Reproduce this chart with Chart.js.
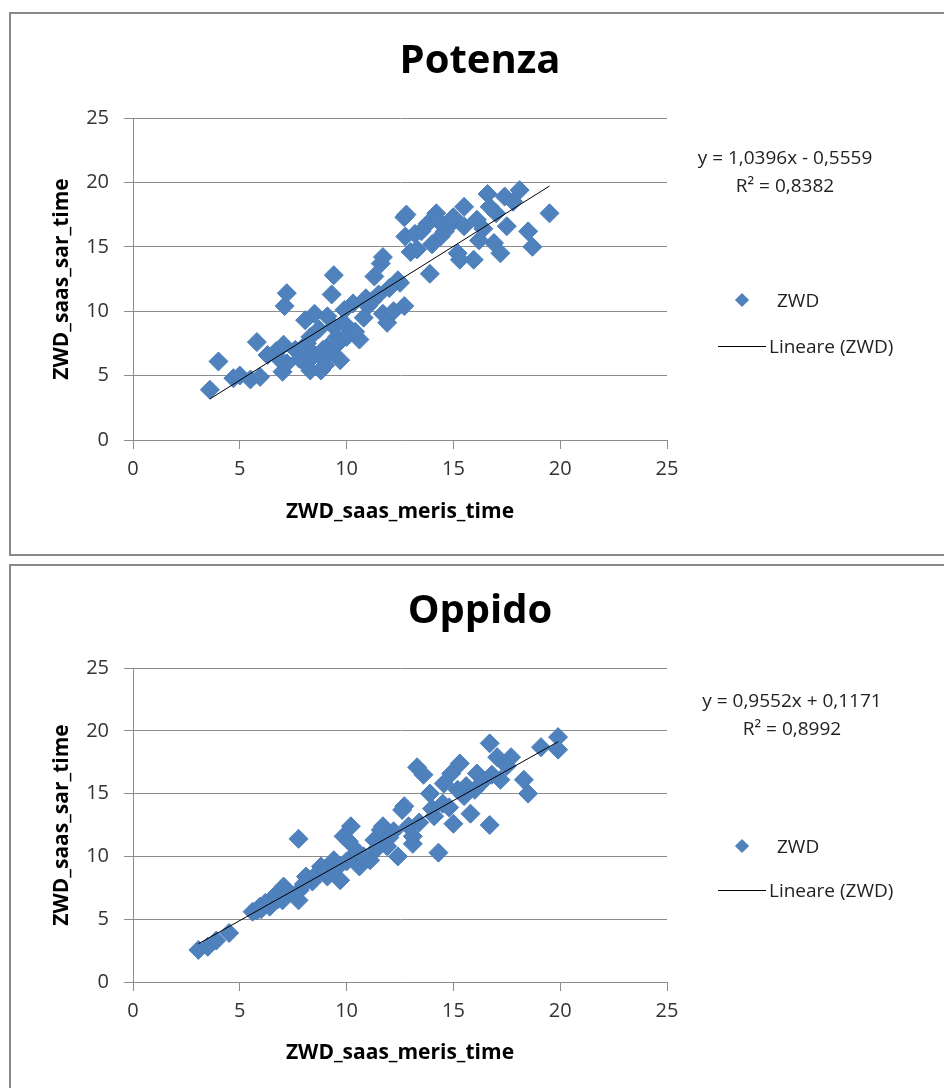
<!DOCTYPE html>
<html>
<head>
<meta charset="utf-8">
<script src="https://cdn.jsdelivr.net/npm/chart.js@4.4.1/dist/chart.umd.min.js"></script>
<style>
  body { margin: 0; background: #fff; width: 944px; height: 1088px; overflow: hidden; position: relative; font-family: "Open Sans", sans-serif; }
  .panel { position: absolute; left: 9px; width: 960px; border: 2px solid #888; background: #fff; }
  #p1 { top: 12px; height: 540px; }
  #p2 { top: 564px; height: 540px; }
  canvas { position: absolute; left: 0; top: 0; }
  .eq { position: absolute; width: 260px; text-align: center; font-size: 19px; line-height: 28px; color: #222; }
  .leg { position: absolute; font-size: 19px; color: #222; line-height: 24px; }
  .diamond { position: absolute; width: 10px; height: 10px; background: #4F81BD; transform: rotate(45deg); }
  .lline { position: absolute; width: 48px; height: 0; border-top: 1px solid #000; }
</style>
</head>
<body>
<div class="panel" id="p1"><canvas id="c1" width="938" height="540"></canvas></div>
<div class="panel" id="p2"><canvas id="c2" width="938" height="522"></canvas></div>

<!-- equazioni e legenda -->
<div class="eq" style="left:655px; top:143px;">y = 1,0396x - 0,5559<br>R² = 0,8382</div>
<div class="diamond" style="left:737px; top:295px;"></div>
<div class="leg" style="left:777px; top:288px;">ZWD</div>
<div class="lline" style="left:718px; top:346px;"></div>
<div class="leg" style="left:769px; top:334px;">Lineare (ZWD)</div>

<div class="eq" style="left:662px; top:686px;">y = 0,9552x + 0,1171<br>R² = 0,8992</div>
<div class="diamond" style="left:737px; top:841px;"></div>
<div class="leg" style="left:777px; top:834px;">ZWD</div>
<div class="lline" style="left:718px; top:890px;"></div>
<div class="leg" style="left:769px; top:878px;">Lineare (ZWD)</div>

<script>
// Potenza
const potenzaX = [3.6, 4.0, 4.7, 5.0, 5.5, 5.95, 5.8, 6.7, 7.05, 7.0, 7.2, 7.1, 7.2, 7.6, 8.06, 8.14, 8.06, 8.3, 8.5, 8.8,
  8.8, 9.1, 9.1, 9.3, 9.4, 9.4, 9.55, 9.7, 9.86, 10.2, 10.3, 10.6, 11.0, 11.3, 11.6, 11.7, 11.7, 11.9, 12.4, 12.7,
  12.7, 12.75, 13.0, 12.8, 13.3, 13.8, 13.9, 14.2, 14.4, 14.9, 15.2, 15.3, 15.5, 15.5, 15.95, 16.1, 16.6, 16.7, 16.9, 17.2,
  17.4, 17.5, 18.1, 18.5, 18.7, 19.5, 12.5, 8.5, 8.9, 9.2, 9.6, 8.3, 10.0, 10.4, 7.8, 9.0, 8.7, 10.8, 11.2, 11.5,
  12.0, 6.3, 6.9, 13.5, 14.0, 14.6, 15.0, 13.2, 16.4, 17.0, 17.8, 16.2, 14.3, 12.2, 10.9, 9.9, 8.0];
const potenzaY = [3.9, 6.1, 4.8, 5.0, 4.7, 4.9, 7.6, 6.9, 7.4, 5.3, 5.95, 10.4, 11.4, 7.0, 9.3, 7.5, 5.95, 5.4, 9.8, 6.5,
  5.4, 9.6, 7.2, 11.3, 12.8, 8.8, 8.0, 6.2, 9.1, 8.5, 10.6, 7.8, 10.4, 12.7, 13.7, 14.2, 9.8, 9.1, 12.4, 10.4,
  17.3, 15.8, 14.6, 17.5, 14.8, 16.8, 12.9, 17.6, 15.8, 16.8, 14.5, 14.0, 18.1, 16.6, 14.0, 17.1, 19.1, 18.1, 15.3, 14.5,
  18.9, 16.6, 19.4, 16.2, 15.0, 17.6, 12.2, 6.6, 7.0, 6.8, 7.5, 8.0, 8.0, 8.4, 6.3, 5.8, 8.6, 9.5, 10.8, 11.3,
  11.8, 6.6, 6.2, 16.2, 15.2, 16.2, 17.3, 16.0, 16.4, 17.6, 18.5, 15.5, 17.0, 10.0, 11.0, 10.1, 7.2];
const potenzaTrend = { slope: 1.0396, intercept: -0.5559 };

// Oppido
const oppidoX = [3.06, 3.5, 3.9, 4.5, 5.6, 5.95, 6.4, 6.6, 7.05, 7.75, 7.75, 8.1, 8.8, 9.1, 9.4, 9.7, 9.86, 10.2, 10.3, 10.6,
  11.1, 11.3, 11.7, 11.9, 12.4, 12.7, 13.1, 13.3, 13.6, 13.9, 14.1, 14.3, 14.55, 14.9, 15.0, 15.3, 15.5, 15.8, 16.1, 16.7,
  16.7, 17.05, 17.2, 17.7, 18.3, 18.5, 19.1, 19.9, 19.9, 9.2, 11.6, 12.6, 13.1, 5.8, 6.2, 6.8, 7.3, 7.8, 8.4, 8.6,
  9.0, 10.0, 10.5, 10.8, 11.4, 12.0, 12.2, 12.9, 13.4, 14.0, 14.5, 14.8, 15.2, 15.6, 16.0, 16.4, 17.5, 16.8, 7.0, 6.0,
  8.0, 9.5, 10.1];
const oppidoY = [2.55, 2.8, 3.3, 3.9, 5.6, 6.0, 6.0, 6.8, 7.6, 11.4, 6.5, 8.4, 9.2, 8.4, 9.7, 8.1, 11.6, 12.4, 10.0, 9.2,
  9.7, 11.3, 12.4, 10.8, 10.0, 14.0, 11.0, 17.1, 16.5, 15.0, 13.2, 10.3, 15.8, 16.6, 12.6, 17.4, 14.8, 13.4, 16.6, 12.5,
  19.0, 17.9, 16.1, 17.9, 16.1, 15.0, 18.7, 19.5, 18.5, 9.2, 12.1, 13.7, 11.6, 5.7, 6.3, 6.6, 7.1, 7.3, 8.0, 8.6,
  8.8, 9.6, 10.4, 10.0, 10.6, 11.5, 12.0, 12.4, 12.7, 13.8, 14.2, 13.9, 15.3, 15.6, 15.3, 16.0, 17.2, 16.5, 6.5, 5.8,
  7.8, 9.0, 11.2];
const oppidoTrend = { slope: 0.9552, intercept: 0.1171 };

const axisTicks = { min: 0, max: 25, step: 5 };
const xTitle = 'ZWD_saas_meris_time';
const yTitle = 'ZWD_saas_sar_time';

const FONT = '"Open Sans", sans-serif';
const GRID = '#8c8c8c';

function creaGrafico(id, titolo, xs, ys, trend, geo) {
  const punti = xs.map((x, i) => ({ x: x, y: ys[i] }));
  const xmin = Math.min(...xs), xmax = Math.max(...xs);
  const retta = [xmin, xmax].map(x => ({ x: x, y: trend.slope * x + trend.intercept }));

  const ctx = document.getElementById(id).getContext('2d');
  return new Chart(ctx, {
    type: 'scatter',
    data: {
      datasets: [
        {
          type: 'line',
          label: 'Lineare (ZWD)',
          data: retta,
          borderColor: '#000',
          borderWidth: 1,
          pointRadius: 0,
          fill: false,
          order: 0
        },
        {
          label: 'ZWD',
          data: punti,
          pointStyle: 'rectRot',
          pointRadius: 9.5,
          backgroundColor: '#4F81BD',
          borderColor: '#4A7EBB',
          borderWidth: 1,
          order: 1
        }
      ]
    },
    options: {
      responsive: false,
      animation: false,
      layout: { padding: { left: 0, right: 0, top: 0, bottom: geo.bottom } },
      plugins: {
        legend: { display: false },
        tooltip: { enabled: false },
        title: {
          display: true,
          text: titolo,
          color: '#000',
          font: { family: FONT, size: 40, weight: 'bold' },
          padding: { top: geo.titleTop, bottom: geo.titleBottom }
        }
      },
      scales: {
        x: {
          type: 'linear',
          min: axisTicks.min, max: axisTicks.max,
          ticks: { stepSize: axisTicks.step, color: '#333', font: { family: FONT, size: 20 }, padding: 8 },
          grid: { drawOnChartArea: false, tickLength: 9, color: GRID },
          border: { color: GRID },
          title: { display: true, text: xTitle, color: '#000', font: { family: FONT, size: 21, weight: 'bold' }, padding: 0 },
          afterFit: s => { s.height = geo.xh; }
        },
        y: {
          type: 'linear',
          min: axisTicks.min, max: axisTicks.max,
          ticks: { stepSize: axisTicks.step, color: '#333', font: { family: FONT, size: 20 }, padding: 15 },
          grid: { tickLength: 9, color: GRID },
          border: { color: GRID },
          title: { display: true, text: yTitle, color: '#000', font: { family: FONT, size: 21, weight: 'bold' }, padding: { top: 38, bottom: 0 } },
          afterFit: s => { s.width = 122; }
        },
        // asse vuoto a destra: lascia lo spazio per equazione e legenda
        spazio: {
          type: 'linear',
          position: 'right',
          display: true,
          ticks: { display: false },
          grid: { display: false },
          border: { display: false },
          afterFit: s => { s.width = 282; }
        }
      }
    }
  });
}

creaGrafico('c1', 'Potenza', potenzaX, potenzaY, potenzaTrend,
  { bottom: 540 - 426 - 85, xh: 85, titleTop: 24, titleBottom: 32 });
creaGrafico('c2', 'Oppido', oppidoX, oppidoY, oppidoTrend,
  { bottom: 522 - 416 - 84, xh: 84, titleTop: 22, titleBottom: 32 });
</script>
</body>
</html>
